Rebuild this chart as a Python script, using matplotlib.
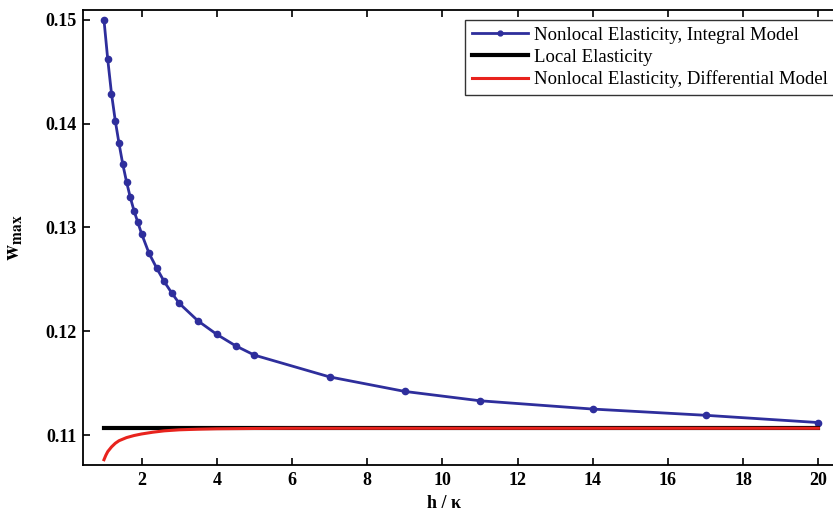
import numpy as np
import matplotlib
matplotlib.use("Agg")
import matplotlib.pyplot as plt

plt.rcParams['font.family'] = ['Liberation Serif', 'DejaVu Serif']
plt.rcParams['mathtext.fontset'] = 'stix'

# ratio h / kappa and maximum deflection for the integral model
h_kappa = [1.0, 1.1, 1.2, 1.3, 1.4, 1.5, 1.6, 1.7, 1.8, 1.9, 2.0,
           2.2, 2.4, 2.6, 2.8, 3.0, 3.5, 4.0, 4.5, 5.0,
           7, 9, 11, 14, 17, 20]
w_integral = [0.1500, 0.1462, 0.1429, 0.1403, 0.1381, 0.1361, 0.1344, 0.1329,
              0.1316, 0.1305, 0.1294, 0.1275, 0.1261, 0.1248, 0.1237, 0.1227,
              0.1210, 0.1197, 0.1186, 0.1177, 0.1156, 0.1142, 0.1133, 0.1125,
              0.1119, 0.1112]

# local elasticity (constant)
x_local = [1, 20]
w_local = [0.11068, 0.11068]

# differential model
x_diff = [1.0, 1.05, 1.1, 1.2, 1.3, 1.4, 1.6, 1.8, 2.0, 2.3, 2.6, 3.0, 3.5,
          4.0, 5.0, 6.0, 8.0, 12.0, 20.0]
w_diff = [0.10762, 0.10805, 0.10840, 0.10885, 0.10920, 0.10945, 0.10975,
          0.10995, 0.11010, 0.11027, 0.11040, 0.11050, 0.11056, 0.11060,
          0.11063, 0.11065, 0.11065, 0.11065, 0.11065]

fig = plt.figure(figsize=(8.33, 5.17), dpi=100)
ax = fig.add_axes([0.100, 0.1006, 0.905, 0.880])

ax.plot(h_kappa, w_integral, '-o', color='#2e2e9c', lw=2.0, ms=4.5,
        label='Nonlocal Elasticity, Integral Model')
ax.plot(x_local, w_local, '-', color='black', lw=3.0, label='Local Elasticity')
ax.plot(x_diff, w_diff, '-', color='#e8231d', lw=2.2,
        label='Nonlocal Elasticity, Differential Model')

ax.set_xlim(0.45, 20.5)
ax.set_ylim(0.10711, 0.15096)
ax.set_xticks(np.arange(2, 21, 2))
ax.set_yticks([0.11, 0.12, 0.13, 0.14, 0.15])
ax.set_yticklabels(['0.11', '0.12', '0.13', '0.14', '0.15'])

ax.tick_params(direction='in', length=5, width=1.2, top=True, right=False,
               labelsize=13, pad=5)
for lab in ax.get_xticklabels() + ax.get_yticklabels():
    lab.set_fontweight('bold')
for sp in ax.spines.values():
    sp.set_linewidth(1.3)

ax.set_xlabel('h / \u03ba', fontsize=13, fontweight='bold')
ax.xaxis.set_label_coords(0.478, -0.065)
ax.set_ylabel(r'$\mathbf{w}_{\mathbf{max}}$', fontsize=16)
ax.yaxis.set_label_coords(-0.078, 0.5)

leg = ax.legend(loc='upper left', bbox_to_anchor=(465 / 833, 1 - 20 / 517),
                bbox_transform=fig.transFigure, fontsize=13.5, frameon=True,
                fancybox=False, edgecolor='black', borderpad=0.35,
                labelspacing=0.25, handlelength=3.0, handletextpad=0.35,
                borderaxespad=0)
leg.get_frame().set_linewidth(1.0)
for line in leg.get_lines():
    line.set_markersize(3.5)

fig.savefig('out.png', dpi=100)
